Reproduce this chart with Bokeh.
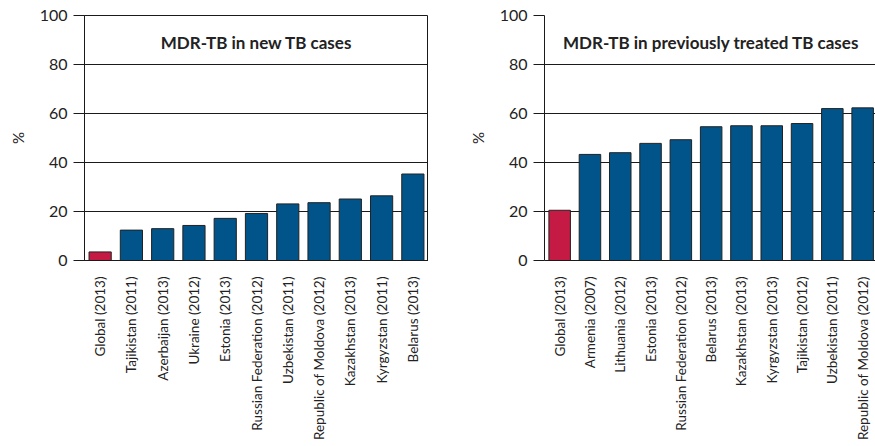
import math
from bokeh.plotting import figure
from bokeh.layouts import row
from bokeh.models import Range1d, FixedTicker, Label, ColumnDataSource
from bokeh.embed import file_html
from bokeh.resources import INLINE

# ---- data ----
new_countries = ["Global (2013)", "Tajikistan (2011)", "Azerbaijan (2013)", "Ukraine (2012)",
                 "Estonia (2013)", "Russian Federation (2012)", "Uzbekistan (2011)",
                 "Republic of Moldova (2012)", "Kazakhstan (2013)", "Kyrgyzstan (2011)",
                 "Belarus (2013)"]
new_values = [3.5, 12.4, 13.0, 14.3, 17.2, 19.2, 23.1, 23.6, 25.1, 26.4, 35.3]

prev_countries = ["Global (2013)", "Armenia (2007)", "Lithuania (2012)", "Estonia (2013)",
                  "Russian Federation (2012)", "Belarus (2013)", "Kazakhstan (2013)",
                  "Kyrgyzstan (2013)", "Tajikistan (2012)", "Uzbekistan (2011)",
                  "Republic of Moldova (2012)"]
prev_values = [20.5, 43.3, 44.0, 47.8, 49.3, 54.6, 55.0, 55.0, 55.9, 62.0, 62.3]

y_ticks = [0, 20, 40, 60, 80, 100]
titles = ["MDR-TB in new TB cases", "MDR-TB in previously treated TB cases"]

BLUE = "#00548a"
RED = "#c41a44"
FONT = "Lato"
INK = "#1a1a1a"


def make_chart(cats, vals, title, width, border_left, x_end, outline):
    n = len(cats)
    xs = list(range(n))
    colors = [RED] + [BLUE] * (n - 1)
    src = ColumnDataSource(dict(x=xs, top=vals, color=colors))
    p = figure(width=width, height=446, output_backend="svg", toolbar_location=None,
               x_range=Range1d(-0.5, x_end), y_range=Range1d(0, 100),
               min_border_left=border_left, min_border_right=0,
               min_border_top=15, min_border_bottom=186)
    p.background_fill_color = "white"
    p.border_fill_color = "white"
    p.outline_line_color = INK if outline else None
    p.outline_line_width = 1

    p.vbar(x="x", top="top", width=0.71, bottom=0, fill_color="color",
           line_color="#222222", line_width=1, source=src)

    # x axis
    xa = p.xaxis[0]
    xa.ticker = FixedTicker(ticks=xs)
    xa.major_label_overrides = {i: c for i, c in enumerate(cats)}
    xa.major_label_orientation = math.pi / 2
    xa.major_tick_line_color = None
    xa.minor_tick_line_color = None
    xa.axis_line_color = INK
    xa.major_label_text_font = FONT
    xa.major_label_text_font_size = "13.5px"
    xa.major_label_text_color = "#222222"
    xa.major_label_standoff = 10

    # y axis
    ya = p.yaxis[0]
    ya.ticker = FixedTicker(ticks=y_ticks)
    ya.major_tick_in = 0
    ya.major_tick_out = 11
    ya.major_tick_line_color = INK
    ya.minor_tick_line_color = None
    ya.axis_line_color = INK
    ya.major_label_text_font = FONT
    ya.major_label_text_font_size = "16px"
    ya.major_label_text_color = "#222222"
    ya.major_label_standoff = 6
    ya.axis_label = "%"
    ya.axis_label_text_font = FONT
    ya.axis_label_text_font_style = "normal"
    ya.axis_label_text_font_size = "15px"
    ya.axis_label_text_color = "#222222"
    ya.axis_label_standoff = 10

    p.xgrid.grid_line_color = None
    p.ygrid.ticker = FixedTicker(ticks=y_ticks)
    p.ygrid.grid_line_color = INK
    p.ygrid.grid_line_width = 1

    p.add_layout(Label(x=(n - 1) / 2, y=89, text=title, text_align="center",
                       text_baseline="middle", text_font=FONT, text_font_style="bold",
                       text_font_size="17px", text_color="#222222"))
    return p


p1 = make_chart(new_countries, new_values, titles[0], width=428, border_left=84,
                x_end=10.5, outline=True)
p2 = make_chart(prev_countries, prev_values, titles[1], width=447, border_left=116,
                x_end=-0.5 + 331 / 30.3, outline=False)

layout = row(p1, p2, spacing=0)
open("out.html", "w").write(file_html(layout, INLINE))
